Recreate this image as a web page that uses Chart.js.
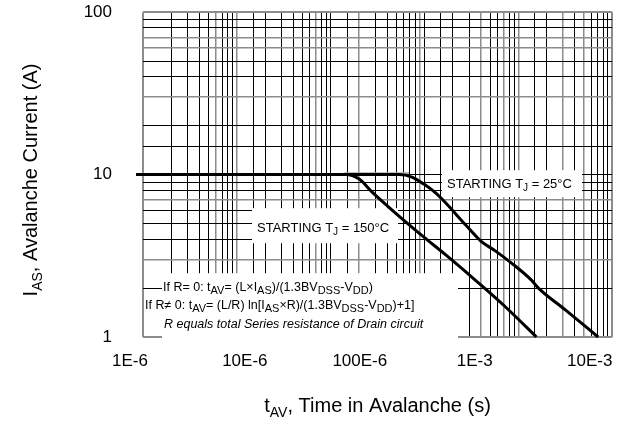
<!DOCTYPE html>
<html>
<head>
<meta charset="utf-8">
<script src="https://cdn.jsdelivr.net/npm/chart.js@4.4.1/dist/chart.umd.min.js"></script>
<style>
html,body{margin:0;padding:0;background:#fff;}
#wrap{width:627px;height:427px;}
canvas{display:block;}
</style>
</head>
<body>
<div id="wrap"><canvas id="c" width="627" height="427"></canvas></div>
<script>
// ---------- data ----------
const xTickValues = [1e-6, 1e-5, 1e-4, 1e-3, 1e-2];
const xTickLabels = ['1E-6', '10E-6', '100E-6', '1E-3', '10E-3'];
const yTickLabels = { 1: '1', 10: '10', 100: '100' };

// STARTING TJ = 25°C  (time in s, current in A)
const t25 = [1.134e-6, 2.194e-4, 2.844e-4, 3.61e-4, 4.59e-4, 5.60e-4, 8.35e-4, 1.13e-3, 1.52e-3, 2.09e-3, 3.11e-3, 3.58e-3, 6.14e-3, 1.185e-2];
const i25 = [10, 10, 9.65, 8.74, 7.69, 6.68, 4.89, 3.90, 3.38, 2.85, 2.24, 2.00, 1.47, 1.0];

// STARTING TJ = 150°C
const t150 = [1.134e-6, 7.47e-5, 9.88e-5, 1.281e-4, 1.909e-4, 2.523e-4, 3.61e-4, 5.60e-4, 1.082e-3, 1.854e-3, 3.44e-3];
const i150 = [10, 10, 9.38, 7.80, 6.05, 5.10, 4.12, 3.20, 2.15, 1.53, 1.0];

// light grey mark on top of the plateau
const tMark = [7.33e-5, 2.68e-4];
const iMark = [10.2, 10.2];

// grid lines drawn in grey instead of black
const grayGridX = [6e-6, 1e-5, 7e-5, 2e-4, 9e-4, 4e-3, 7e-3, 1e-2, 3e-2, 5e-2];
const grayGridY = [3, 7, 30, 60, 70];
const edgeGridX = [1e-6, 1e-1];
const edgeGridY = [1, 100];

// ---------- helpers ----------
const FONT = '"Liberation Sans", Arial, Helvetica, sans-serif';
const GRAY = '#8c8c8c';
const has = (v, arr) => arr.some(g => Math.abs(v / g - 1) < 1e-6);

function richWidth(ctx, parts, size, subSize, italic) {
  let w = 0;
  for (const p of parts) {
    const sub = Array.isArray(p);
    ctx.font = (italic ? 'italic ' : '') + (sub ? subSize : size) + 'px ' + FONT;
    w += ctx.measureText(sub ? p[0] : p).width;
  }
  return w;
}
function drawRich(ctx, parts, x, y, size, subSize, subDy, italic) {
  let cx = x;
  ctx.textBaseline = 'alphabetic';
  ctx.textAlign = 'left';
  for (const p of parts) {
    const sub = Array.isArray(p);
    const s = sub ? p[0] : p;
    ctx.font = (italic ? 'italic ' : '') + (sub ? subSize : size) + 'px ' + FONT;
    ctx.fillText(s, cx, y + (sub ? subDy : 0));
    cx += ctx.measureText(s).width;
  }
}

const annotations = {
  id: 'annotations',
  beforeDatasetsDraw(chart) {
    const ctx = chart.ctx;
    const a = chart.chartArea;
    ctx.save();
    ctx.fillStyle = '#fff';
    // boxes (relative to chart area)
    ctx.fillRect(a.left + 299, a.top + 158, 140, 27);   // 25°C
    ctx.fillRect(a.left + 109, a.top + 196, 146, 35);   // 150°C
    ctx.fillRect(a.left + 19, a.top + 261, 296, 68);    // formula
    ctx.fillStyle = '#000';
    drawRich(ctx, ['STARTING T', ['J'], ' = 25°C'], a.left + 304, a.top + 175.5, 13, 10, 3, false);
    drawRich(ctx, ['STARTING T', ['J'], ' = 150°C'], a.left + 114, a.top + 219.7, 13, 10, 3, false);
    drawRich(ctx, ['If R= 0: t', ['AV'], '= (L×I', ['AS'], ')/(1.3BV', ['DSS'], '-V', ['DD'], ')'],
      a.left + 20, a.top + 278.7, 12.5, 11, 3, false);
    drawRich(ctx, ['If R≠ 0: t', ['AV'], '= (L/R) ln[I', ['AS'], '×R)/(1.3BV', ['DSS'], '-V', ['DD'], ')+1]'],
      a.left + 2, a.top + 297, 12.5, 11, 3, false);
    drawRich(ctx, ['R equals total Series resistance of Drain circuit'],
      a.left + 21, a.top + 315.7, 12.5, 11, 3, true);
    ctx.restore();
  },
  afterDraw(chart) {
    const ctx = chart.ctx;
    const a = chart.chartArea;
    ctx.save();
    ctx.fillStyle = '#000';
    // x title
    const xParts = ['t', ['AV'], ', Time in Avalanche (s)'];
    const xw = richWidth(ctx, xParts, 20, 14, false);
    drawRich(ctx, xParts, (a.left + a.right) / 2 - xw / 2, 412, 20, 14, 5, false);
    // y title
    const yParts = ['I', ['AS'], ', Avalanche Current (A)'];
    const yw = richWidth(ctx, yParts, 20, 14, false);
    ctx.translate(37, 180);
    ctx.rotate(-Math.PI / 2);
    drawRich(ctx, yParts, -yw / 2, 0, 20, 14, 5, false);
    ctx.restore();
  }
};

const pts = (ts, is) => ts.map((t, k) => ({ x: t, y: is[k] }));

new Chart(document.getElementById('c'), {
  type: 'line',
  data: {
    datasets: [
      { data: pts(t25, i25), borderColor: '#000', borderWidth: 3, pointRadius: 0,
        cubicInterpolationMode: 'monotone', clip: false, xAxisID: 'x', yAxisID: 'y' },
      { data: pts(t150, i150), borderColor: '#000', borderWidth: 3, pointRadius: 0,
        cubicInterpolationMode: 'monotone', clip: false, xAxisID: 'x', yAxisID: 'y' },
      { data: pts(tMark, iMark), borderColor: '#a8a8a8', borderWidth: 2, pointRadius: 0,
        clip: false, xAxisID: 'x', yAxisID: 'y' }
    ]
  },
  plugins: [annotations],
  options: {
    responsive: false,
    devicePixelRatio: 1,
    animation: false,
    layout: { padding: { top: 12, right: 13, left: 0, bottom: 0 } },
    plugins: { legend: { display: false }, tooltip: { enabled: false }, title: { display: false } },
    scales: {
      x: {
        type: 'logarithmic', position: 'bottom',
        min: 1.30e-6, max: 1.567e-2,
        afterBuildTicks: s => { s.ticks = xTickValues.map(v => ({ value: v })); },
        afterFit: s => { s.height = 90; },
        ticks: { autoSkip: false, maxRotation: 0, minRotation: 0, padding: 14,
          color: '#000', font: { family: FONT, size: 17 },
          callback: (v, i) => xTickLabels[i] },
        grid: { display: false, drawTicks: false },
        border: { display: false }
      },
      xg: {
        type: 'logarithmic', position: 'bottom',
        min: 1e-6, max: 1e-1,
        afterFit: s => { s.height = 0; },
        ticks: { display: false, autoSkip: false },
        grid: {
          drawTicks: false,
          color: c => (has(c.tick.value, edgeGridX) || has(c.tick.value, grayGridX)) ? GRAY : '#000',
          lineWidth: c => has(c.tick.value, edgeGridX) ? 2 : (has(c.tick.value, grayGridX) ? 1.5 : 1)
        },
        border: { display: false }
      },
      y: {
        type: 'logarithmic', position: 'left',
        min: 1, max: 100,
        afterFit: s => { s.width = 143; },
        ticks: { autoSkip: false, padding: 2, color: '#000', font: { family: FONT, size: 17 },
          callback: v => (yTickLabels[v] !== undefined ? yTickLabels[v] : '') },
        grid: {
          drawTicks: true,
          tickLength: 29,
          tickColor: 'rgba(0,0,0,0)',
          color: c => (has(c.tick.value, edgeGridY) || has(c.tick.value, grayGridY)) ? GRAY : '#000',
          lineWidth: c => has(c.tick.value, edgeGridY) ? 2 : (has(c.tick.value, grayGridY) ? 1.5 : 1)
        },
        border: { display: false }
      }
    }
  }
});
</script>
</body>
</html>
